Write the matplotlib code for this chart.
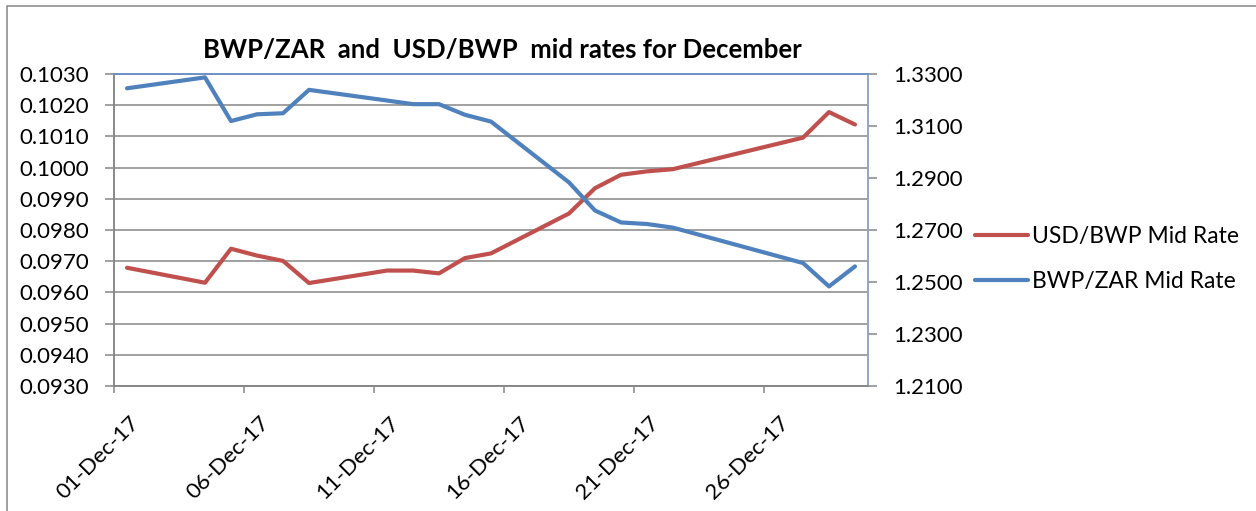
import numpy as np
import pandas as pd
import matplotlib
matplotlib.use("Agg")
import matplotlib.pyplot as plt
import matplotlib.dates as mdates
import matplotlib.transforms as mtrans
from matplotlib.patches import Rectangle

plt.rcParams["font.family"] = ["Lato", "DejaVu Sans"]

# trading days in December 2017
days = ["2017-12-01", "2017-12-04", "2017-12-05", "2017-12-06", "2017-12-07",
        "2017-12-08", "2017-12-11", "2017-12-12", "2017-12-13", "2017-12-14",
        "2017-12-15", "2017-12-18", "2017-12-19", "2017-12-20", "2017-12-21",
        "2017-12-22", "2017-12-27", "2017-12-28", "2017-12-29"]
usd_bwp = [0.09679, 0.09631, 0.09740, 0.09718, 0.09701,
           0.09630, 0.09670, 0.09670, 0.09661, 0.09710,
           0.09725, 0.09853, 0.09934, 0.09977, 0.09988,
           0.09995, 0.10096, 0.10178, 0.10138]
bwp_zar = [1.3245, 1.3287, 1.3119, 1.3145, 1.3149,
           1.3239, 1.3198, 1.3184, 1.3184, 1.3143,
           1.3117, 1.2883, 1.2775, 1.2729, 1.2723,
           1.2709, 1.2573, 1.2483, 1.2560]
tick_days = ["2017-12-01", "2017-12-06", "2017-12-11", "2017-12-16",
             "2017-12-21", "2017-12-26"]

red = "#C0504D"
blue = "#4F81BD"
grey = "#868686"

# excel puts each point in the middle of its day slot
x = pd.to_datetime(days) + pd.Timedelta(hours=12)

fig = plt.figure(figsize=(12.56, 5.11), dpi=100)
ax = fig.add_axes([114/1256, 1 - 386/511, (868 - 114)/1256, (386 - 74)/511])
ax2 = ax.twinx()

ax.plot(x, usd_bwp, color=red, lw=3, solid_capstyle="round",
        solid_joinstyle="round", label="USD/BWP Mid Rate")
ax2.plot(x, bwp_zar, color=blue, lw=3, solid_capstyle="round",
         solid_joinstyle="round", label="BWP/ZAR Mid Rate")

ax.set_xlim(pd.Timestamp("2017-12-01"), pd.Timestamp("2017-12-30"))
ax.set_ylim(0.0930, 0.1030)
ax.set_yticks(np.arange(0.0930, 0.10305, 0.001))
ax.yaxis.set_major_formatter(matplotlib.ticker.FormatStrFormatter("%.4f"))
ax2.set_ylim(1.2100, 1.3300)
ax2.set_yticks(np.arange(1.21, 1.3305, 0.02))
ax2.yaxis.set_major_formatter(matplotlib.ticker.FormatStrFormatter("%.4f"))

ax.set_xticks(pd.to_datetime(tick_days))
ax.xaxis.set_major_formatter(mdates.DateFormatter("%d-%b-%y"))

ax.grid(axis="y", color=grey, lw=1.1)
ax.set_axisbelow(True)

for a in (ax, ax2):
    a.spines["left"].set_color(grey)
    a.spines["bottom"].set_color(grey)
    a.spines["right"].set_color("#8EA4C8")
    a.spines["top"].set_color("#6A8FC7")
    for s in a.spines.values():
        s.set_linewidth(1.1)

ax.tick_params(axis="y", length=6.5, width=1.1, color=grey, pad=11.5,
               labelsize=16)
ax2.tick_params(axis="y", length=6.5, width=1.1, color=grey, pad=12,
                labelsize=16)
ax.tick_params(axis="x", length=5, width=1.1, color=grey, pad=19,
               labelsize=16)

shift = mtrans.ScaledTranslation(22/100, 0, fig.dpi_scale_trans)
for lab in ax.get_xticklabels():
    lab.set_rotation(45)
    lab.set_rotation_mode("anchor")
    lab.set_ha("right")
    lab.set_va("center")
    lab.set_transform(lab.get_transform() + shift)

fig.text(502/1256, 1 - 50/511,
         "BWP/ZAR  and  USD/BWP  mid rates for December",
         ha="center", va="center", fontsize=18.5, fontweight="bold")

h1, l1 = ax.get_legend_handles_labels()
h2, l2 = ax2.get_legend_handles_labels()
fig.legend(h1 + h2, l1 + l2, loc="center left",
           bbox_to_anchor=(975/1256, 1 - 259/511), frameon=False,
           fontsize=16.5, handlelength=2.3, handletextpad=0.2,
           labelspacing=1.05, borderpad=0, borderaxespad=0)

# outer chart border, cut at the right and bottom like the source
fig.patches.append(Rectangle((7/1256, -0.1), 1.2, 1 - 6/511 + 0.1,
                             transform=fig.transFigure, fill=False,
                             edgecolor=grey, lw=1.1))

fig.savefig("out.png", dpi=100)
